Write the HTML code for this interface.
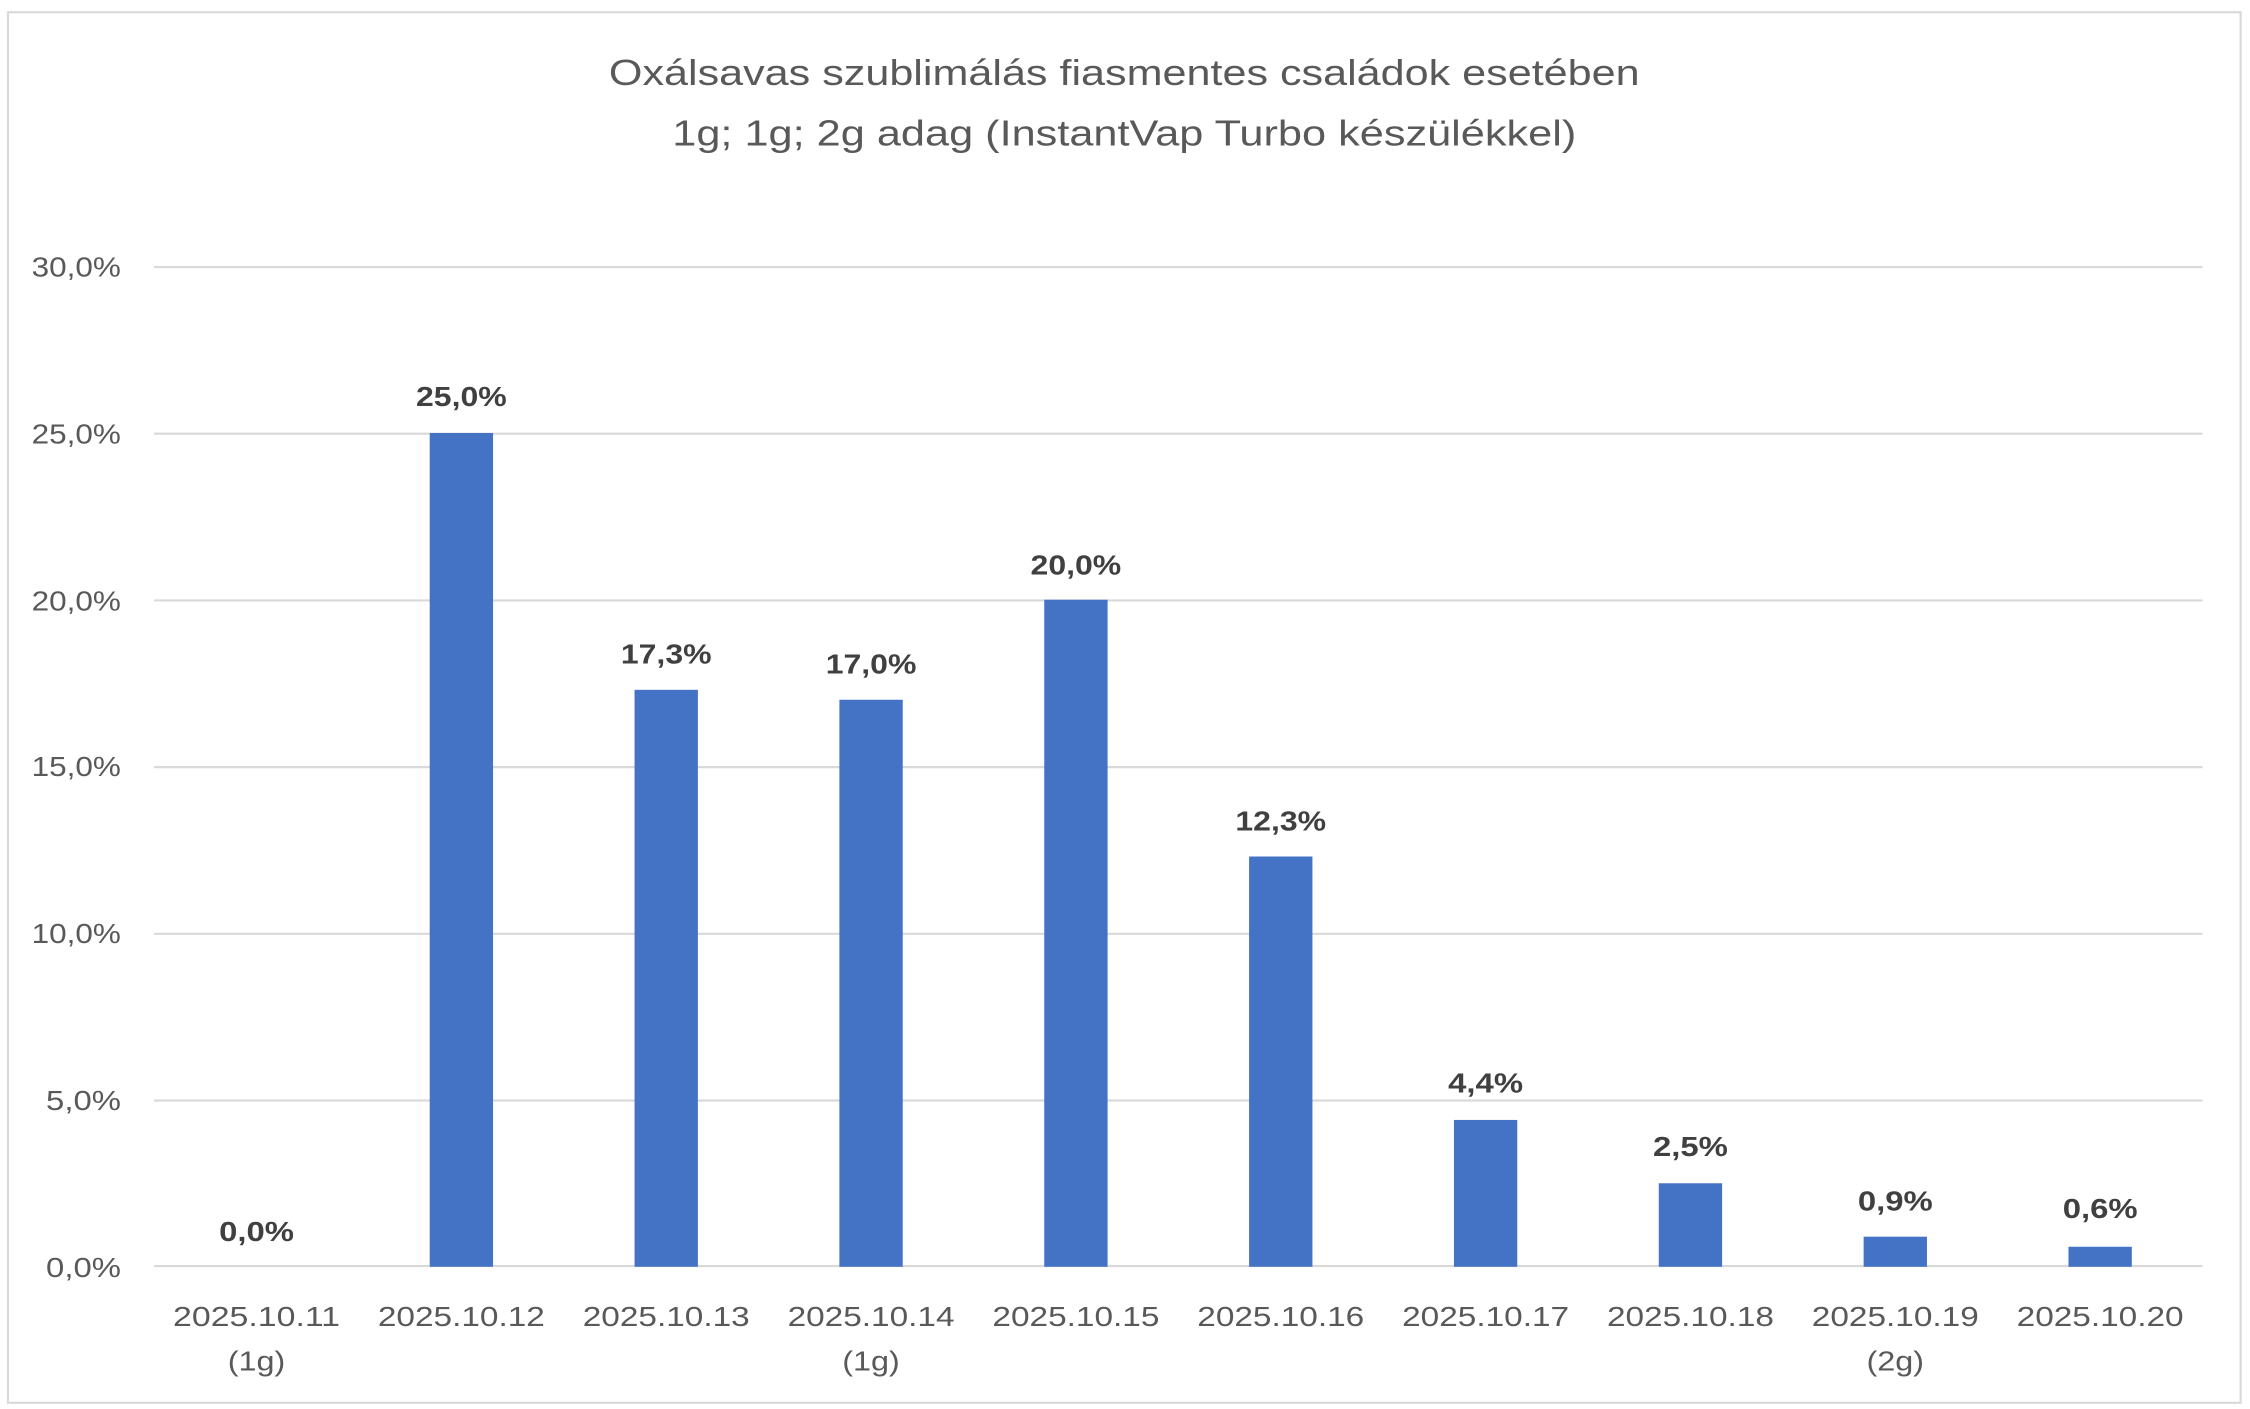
<!DOCTYPE html>
<html><head><meta charset="utf-8"><style>
html,body{margin:0;padding:0;background:#fff;}
svg{display:block;}
text{font-family:"Liberation Sans",sans-serif;}
</style></head><body>
<svg width="2250" height="1409" viewBox="0 0 1563 978.8" preserveAspectRatio="none" xmlns="http://www.w3.org/2000/svg">
<rect x="0" y="0" width="1563" height="978.8" fill="#fff"/>
<rect x="5.5" y="8.5" width="1551" height="966" fill="#fff" stroke="#d9d9d9" stroke-width="1.5"/>
<text x="781" y="59" text-anchor="middle" font-size="25" fill="#595959" textLength="716" lengthAdjust="spacingAndGlyphs">Oxálsavas szublimálás fiasmentes családok esetében</text>
<text x="781" y="101" text-anchor="middle" font-size="25" fill="#595959" textLength="628" lengthAdjust="spacingAndGlyphs">1g; 1g; 2g adag (InstantVap Turbo készülékkel)</text>
<g stroke="#d9d9d9" stroke-width="1.5">
<line x1="107" x2="1530" y1="185.5" y2="185.5"/>
<line x1="107" x2="1530" y1="301.3" y2="301.3"/>
<line x1="107" x2="1530" y1="417.1" y2="417.1"/>
<line x1="107" x2="1530" y1="532.9" y2="532.9"/>
<line x1="107" x2="1530" y1="648.7" y2="648.7"/>
<line x1="107" x2="1530" y1="764.5" y2="764.5"/>
<line x1="107" x2="1530" y1="879.5" y2="879.5"/>
</g>
<g font-size="19" fill="#595959" text-anchor="end">
<text x="84" y="192" textLength="62" lengthAdjust="spacingAndGlyphs">30,0%</text>
<text x="84" y="308" textLength="62" lengthAdjust="spacingAndGlyphs">25,0%</text>
<text x="84" y="424" textLength="62" lengthAdjust="spacingAndGlyphs">20,0%</text>
<text x="84" y="539" textLength="62" lengthAdjust="spacingAndGlyphs">15,0%</text>
<text x="84" y="655" textLength="62" lengthAdjust="spacingAndGlyphs">10,0%</text>
<text x="84" y="771" textLength="52" lengthAdjust="spacingAndGlyphs">5,0%</text>
<text x="84" y="887" textLength="52" lengthAdjust="spacingAndGlyphs">0,0%</text>
</g>
<g fill="#4472C4">
<rect x="298.5" y="300.8" width="44" height="579.2"/>
<rect x="440.8" y="479.2" width="44" height="400.8"/>
<rect x="583.1" y="486.1" width="44" height="393.9"/>
<rect x="725.4" y="416.6" width="44" height="463.4"/>
<rect x="867.7" y="595" width="44" height="285"/>
<rect x="1010" y="778" width="44" height="102"/>
<rect x="1152.3" y="822" width="44" height="58"/>
<rect x="1294.6" y="859.1" width="44" height="20.9"/>
<rect x="1436.9" y="866.1" width="44" height="13.9"/>
</g>
<g font-size="19" font-weight="bold" fill="#404040" text-anchor="middle">
<text x="178.2" y="862" textLength="52" lengthAdjust="spacingAndGlyphs">0,0%</text>
<text x="320.5" y="282" textLength="63" lengthAdjust="spacingAndGlyphs">25,0%</text>
<text x="462.8" y="461" textLength="63" lengthAdjust="spacingAndGlyphs">17,3%</text>
<text x="605.1" y="468" textLength="63" lengthAdjust="spacingAndGlyphs">17,0%</text>
<text x="747.4" y="399" textLength="63" lengthAdjust="spacingAndGlyphs">20,0%</text>
<text x="889.7" y="577" textLength="63" lengthAdjust="spacingAndGlyphs">12,3%</text>
<text x="1032" y="759" textLength="52" lengthAdjust="spacingAndGlyphs">4,4%</text>
<text x="1174.3" y="803" textLength="52" lengthAdjust="spacingAndGlyphs">2,5%</text>
<text x="1316.6" y="841" textLength="52" lengthAdjust="spacingAndGlyphs">0,9%</text>
<text x="1458.9" y="846" textLength="52" lengthAdjust="spacingAndGlyphs">0,6%</text>
</g>
<g font-size="19" fill="#595959" text-anchor="middle">
<text x="178.2" y="921" textLength="116" lengthAdjust="spacingAndGlyphs">2025.10.11</text><text x="178.2" y="952" textLength="40" lengthAdjust="spacingAndGlyphs">(1g)</text>
<text x="320.5" y="921" textLength="116" lengthAdjust="spacingAndGlyphs">2025.10.12</text>
<text x="462.8" y="921" textLength="116" lengthAdjust="spacingAndGlyphs">2025.10.13</text>
<text x="605.1" y="921" textLength="116" lengthAdjust="spacingAndGlyphs">2025.10.14</text><text x="605.1" y="952" textLength="40" lengthAdjust="spacingAndGlyphs">(1g)</text>
<text x="747.4" y="921" textLength="116" lengthAdjust="spacingAndGlyphs">2025.10.15</text>
<text x="889.7" y="921" textLength="116" lengthAdjust="spacingAndGlyphs">2025.10.16</text>
<text x="1032" y="921" textLength="116" lengthAdjust="spacingAndGlyphs">2025.10.17</text>
<text x="1174.3" y="921" textLength="116" lengthAdjust="spacingAndGlyphs">2025.10.18</text>
<text x="1316.6" y="921" textLength="116" lengthAdjust="spacingAndGlyphs">2025.10.19</text><text x="1316.6" y="952" textLength="40" lengthAdjust="spacingAndGlyphs">(2g)</text>
<text x="1458.9" y="921" textLength="116" lengthAdjust="spacingAndGlyphs">2025.10.20</text>
</g>
</svg>
</body></html>
